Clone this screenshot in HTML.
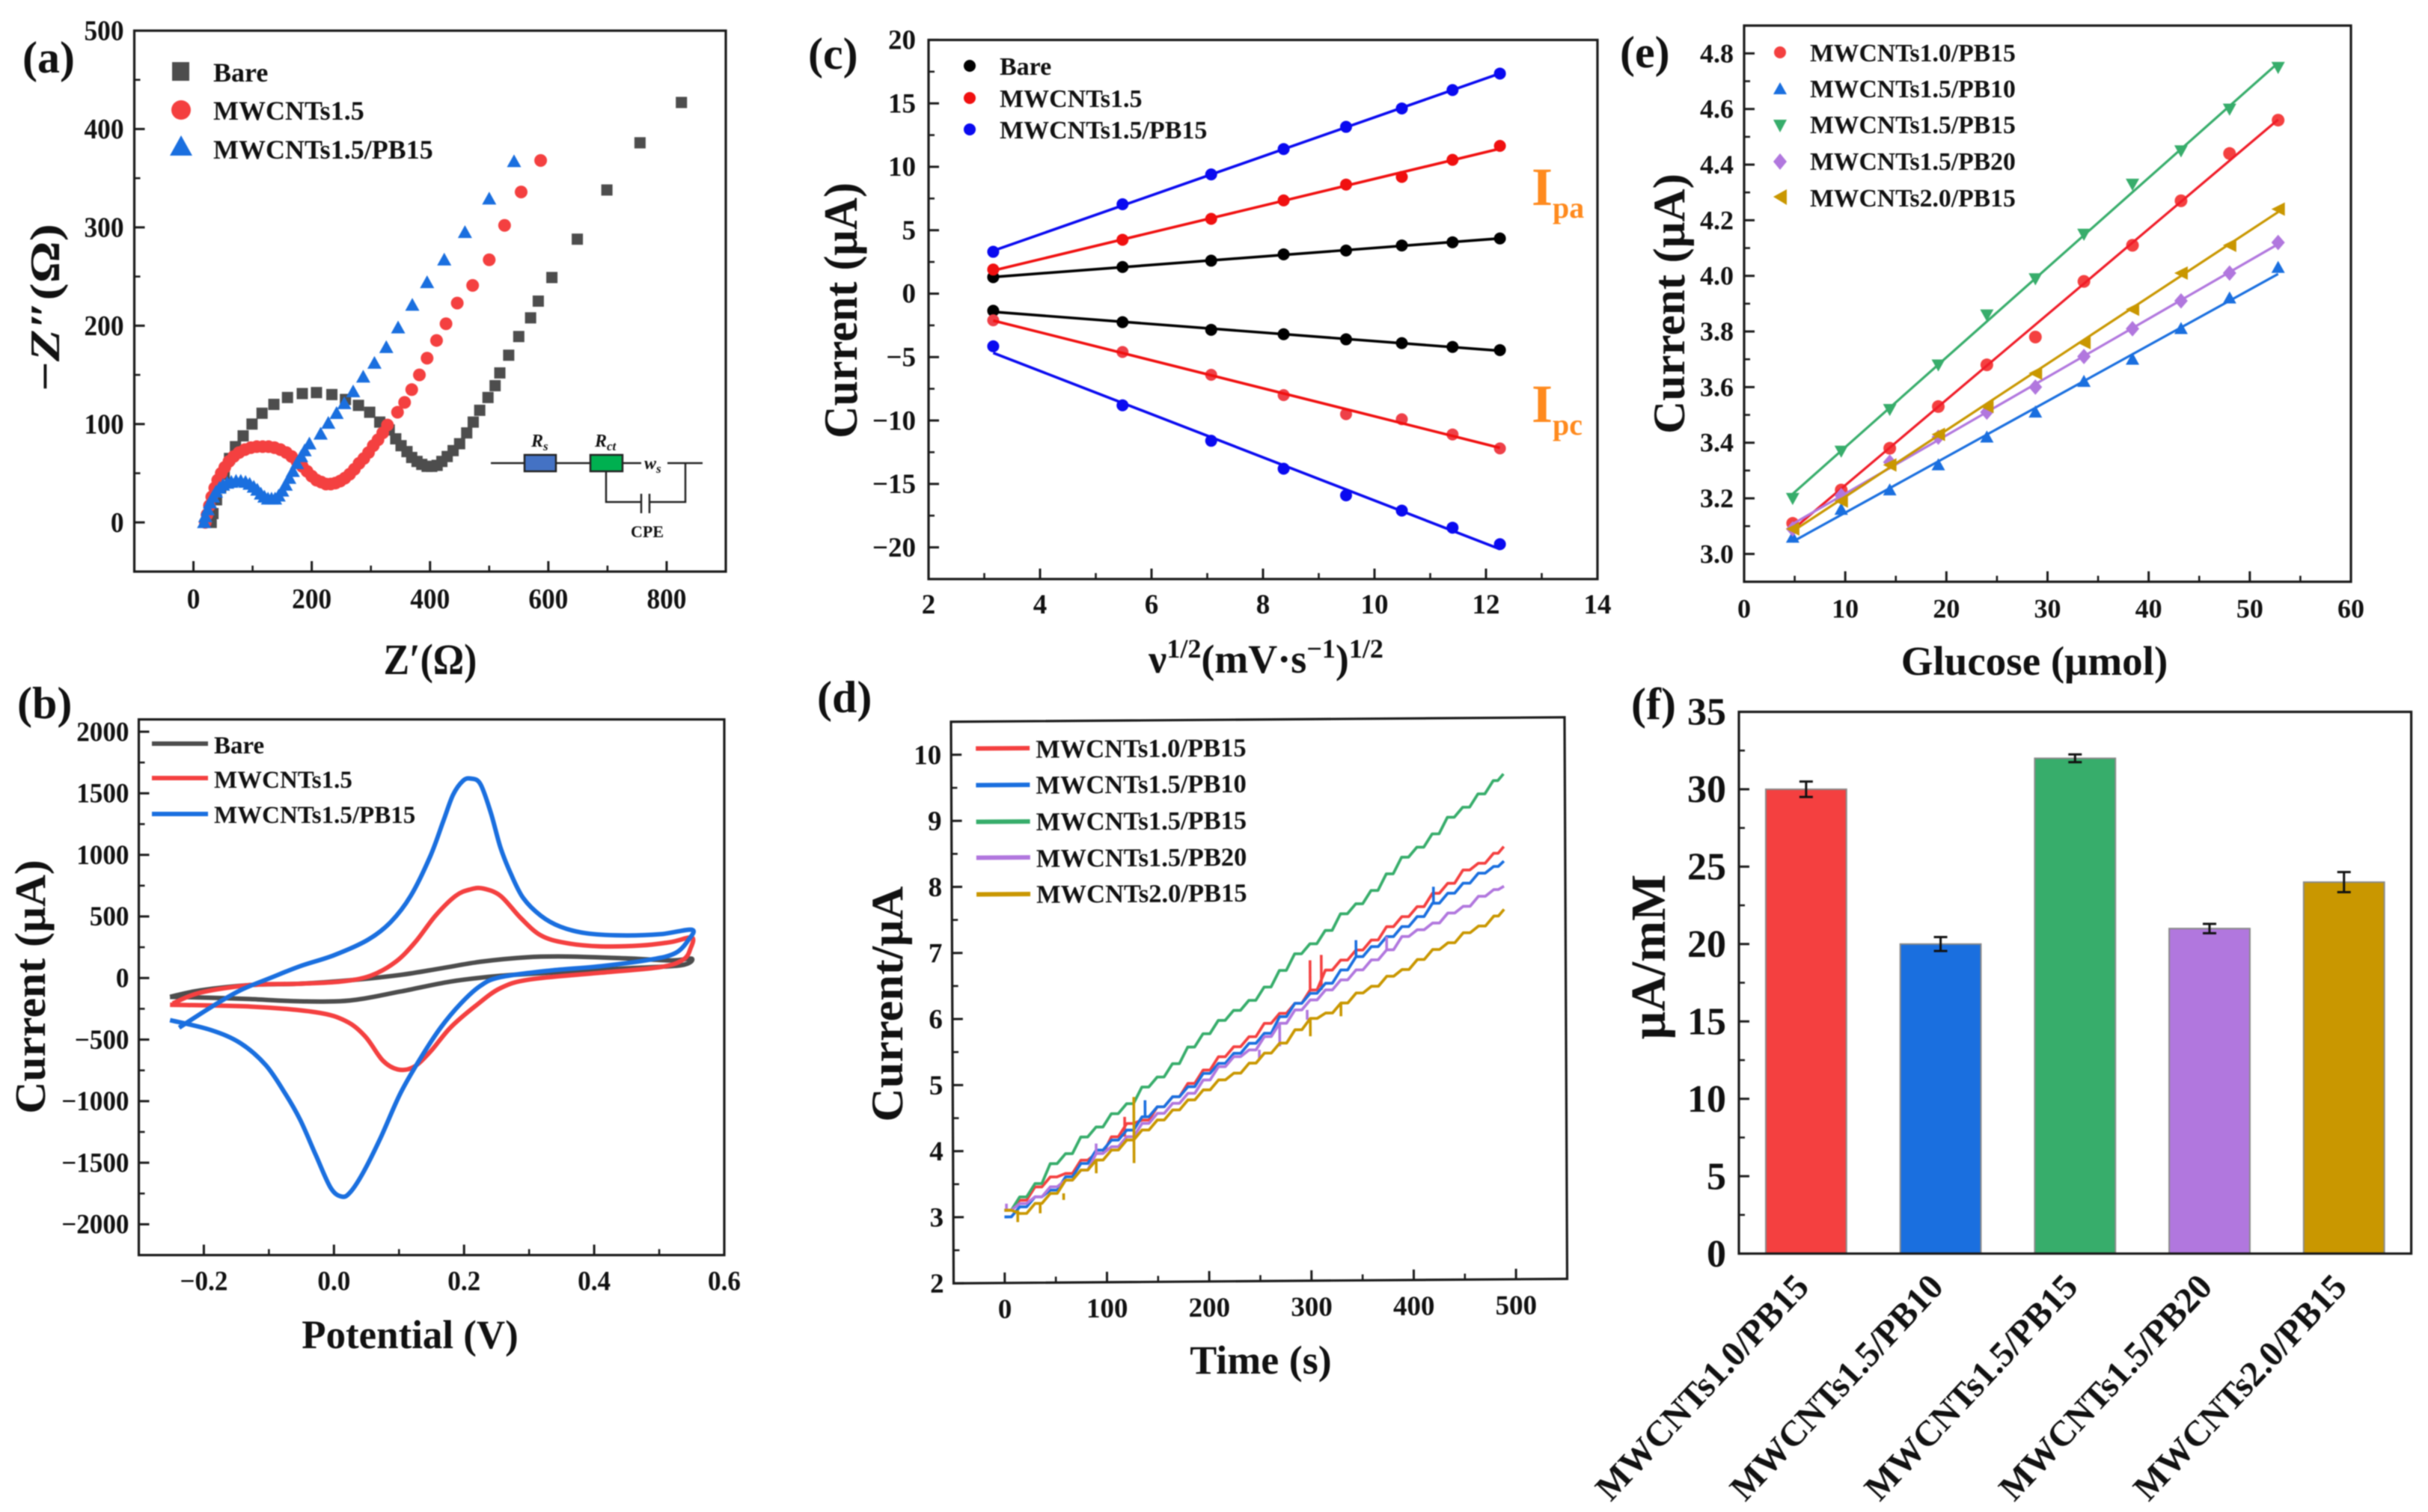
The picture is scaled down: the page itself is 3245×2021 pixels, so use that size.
<!DOCTYPE html>
<html lang="en">
<head>
<meta charset="utf-8">
<title>Electrochemical characterisation panels</title>
<style>
html,body{margin:0;padding:0;background:#fff;}
svg{display:block;filter:blur(.7px);}
text{font-family:"Liberation Serif","DejaVu Serif",serif;font-weight:bold;fill:#111;}
</style>
</head>
<body>
<svg id="fig" xmlns="http://www.w3.org/2000/svg" width="3245" height="2021" viewBox="0 0 3245 2021">
<rect width="3245" height="2021" fill="#fff"/>

<!-- panel a -->
<g id="pa">
  <text x="30" y="97" font-size="60">(a)</text>
  <g id="pa-axes"></g>
  <g id="a-bare" fill="#4d4d4d"></g>
  <g id="a-cnt" fill="#f44040"></g>
  <g id="a-pb" fill="#1a6fdf"></g>
  <text text-anchor="middle" font-size="58" transform="translate(575 901) scale(.89 1)">Z′(Ω)</text>
  <text text-anchor="middle" font-size="56" transform="translate(79 411) rotate(-90) scale(1.25 1)">−<tspan font-style="italic">Z</tspan>″(Ω)</text>
  <g>
    <rect x="230" y="83" width="23" height="25" fill="#4d4d4d"/>
    <circle cx="242" cy="147" r="13" fill="#f44040"/>
    <path d="M227 208 L242 181 L257 208 Z" fill="#1a6fdf"/>
    <text x="285" y="109" font-size="36">Bare</text>
    <text x="285" y="160" font-size="36">MWCNTs1.5</text>
    <text x="285" y="212" font-size="36">MWCNTs1.5/PB15</text>
  </g>
  <g stroke="#222" stroke-width="2.5" fill="none">
    <path d="M656 619H701M743 619H789M832 619H857M892 619H939M810 630V671H857M868 671H916V619M857 660V686M868 660V686"/>
    <rect x="701" y="608" width="42" height="22" fill="#4472c4"/>
    <rect x="789" y="608" width="43" height="22" fill="#00b050"/>
    <text x="710" y="597" font-size="24" font-style="italic" stroke="none">R<tspan dy="5" font-size="17">s</tspan></text>
    <text x="795" y="597" font-size="24" font-style="italic" stroke="none">R<tspan dy="5" font-size="17">ct</tspan></text>
    <text x="861" y="627" font-size="24" font-style="italic" stroke="none">w<tspan dy="5" font-size="17">s</tspan></text>
    <text x="865" y="718" font-size="22" text-anchor="middle" stroke="none">CPE</text>
  </g>
</g>

<!-- panel b -->
<g id="pb">
  <text x="23" y="960" font-size="60">(b)</text>
  <g id="pb-axes"></g>
  <g id="b-lines" fill="none" stroke-width="6" stroke-linejoin="round"></g>
  <text text-anchor="middle" font-size="54" transform="translate(548 1802) scale(.98 1)">Potential (V)</text>
  <text text-anchor="middle" font-size="58" transform="translate(60 1319) rotate(-90) scale(1.03 1)">Current (μA)</text>
  <g stroke-width="6">
    <line x1="203" x2="278" y1="994" y2="994" stroke="#4d4d4d"/>
    <line x1="203" x2="278" y1="1040" y2="1040" stroke="#f44040"/>
    <line x1="203" x2="278" y1="1088" y2="1088" stroke="#1a6fdf"/>
    <text x="286" y="1007" font-size="33" stroke="none">Bare</text>
    <text x="286" y="1053" font-size="33" stroke="none">MWCNTs1.5</text>
    <text x="286" y="1100" font-size="33" stroke="none">MWCNTs1.5/PB15</text>
  </g>
</g>

<!-- panel c -->
<g id="pc">
  <text x="1080" y="92" font-size="60">(c)</text>
  <g id="pc-axes"></g>
  <g id="c-bare-up"></g>
  <g id="c-bare-down"></g>
  <g id="c-cnt-up"></g>
  <g id="c-cnt-down"></g>
  <g id="c-pb-up"></g>
  <g id="c-pb-down"></g>
  <text text-anchor="middle" font-size="54" transform="translate(1692 899)">ν<tspan dy="-20" font-size="36">1/2</tspan><tspan dy="20">(mV·s</tspan><tspan dy="-20" font-size="36">−1</tspan><tspan dy="20">)</tspan><tspan dy="-20" font-size="36">1/2</tspan></text>
  <text text-anchor="middle" font-size="64" transform="translate(1145 415) rotate(-90) scale(.94 1)">Current (μA)</text>
  <g>
    <circle cx="1296" cy="88" r="8" fill="#000"/>
    <circle cx="1296" cy="131" r="8" fill="#f01010"/>
    <circle cx="1296" cy="173" r="8" fill="#0a0af0"/>
    <text x="1336" y="100" font-size="34">Bare</text>
    <text x="1336" y="143" font-size="34">MWCNTs1.5</text>
    <text x="1336" y="185" font-size="34">MWCNTs1.5/PB15</text>
  </g>
  <text x="2047" y="274" font-size="72" style="fill:#ff8a1e">I<tspan dy="17" font-size="40" style="fill:#ff8a1e">pa</tspan></text>
  <text x="2047" y="564" font-size="72" style="fill:#ff8a1e">I<tspan dy="17" font-size="40" style="fill:#ff8a1e">pc</tspan></text>
</g>

<!-- panel d -->
<g id="pd">
  <text x="1092" y="952" font-size="60">(d)</text>
  <g transform="matrix(1 -0.0073 0.0047 1 -1.5 20)">
    <g id="pd-axes"></g>
    <g id="d-lines" fill="none" stroke-width="3.8" stroke-linejoin="round"></g>
    <g stroke-width="6">
      <line x1="1301" x2="1373" y1="990" y2="990" stroke="#f44040"/>
      <line x1="1301" x2="1373" y1="1039" y2="1039" stroke="#1a6fdf"/>
      <line x1="1301" x2="1373" y1="1088" y2="1088" stroke="#37ad6b"/>
      <line x1="1301" x2="1373" y1="1136" y2="1136" stroke="#b177de"/>
      <line x1="1301" x2="1373" y1="1185" y2="1185" stroke="#c99700"/>
      <text x="1381" y="1003" font-size="34.5" stroke="none">MWCNTs1.0/PB15</text>
      <text x="1381" y="1051" font-size="34.5" stroke="none">MWCNTs1.5/PB10</text>
      <text x="1381" y="1100" font-size="34.5" stroke="none">MWCNTs1.5/PB15</text>
      <text x="1381" y="1149" font-size="34.5" stroke="none">MWCNTs1.5/PB20</text>
      <text x="1381" y="1197" font-size="34.5" stroke="none">MWCNTs2.0/PB15</text>
    </g>
  </g>
  <text text-anchor="middle" font-size="54" transform="translate(1685 1836)">Time (s)</text>
  <text text-anchor="middle" font-size="60" transform="translate(1206 1342) rotate(-90) scale(1.04 1)">Current/μA</text>
</g>

<!-- panel e -->
<g id="pe">
  <text x="2165" y="90" font-size="60">(e)</text>
  <g id="pe-axes"></g>
  <g id="e-r"></g>
  <g id="e-b"></g>
  <g id="e-g"></g>
  <g id="e-p"></g>
  <g id="e-y"></g>
  <text text-anchor="middle" font-size="55" transform="translate(2719 902)">Glucose (μmol)</text>
  <text text-anchor="middle" font-size="60" transform="translate(2251 406) rotate(-90) scale(1.02 1)">Current (μA)</text>
  <g>
    <circle cx="2379" cy="70" r="8" fill="#f44040"/>
    <path d="M2370 126 L2379 110 L2388 126 Z" fill="#1a6fdf"/>
    <path d="M2370 160 L2379 177 L2388 160 Z" fill="#37ad6b"/>
    <path d="M2379 205 L2388 216 L2379 227 L2370 216 Z" fill="#b177de"/>
    <path d="M2388 253 L2370 263 L2388 274 Z" fill="#c99700"/>
    <text x="2419" y="82" font-size="33.7">MWCNTs1.0/PB15</text>
    <text x="2419" y="130" font-size="33.7">MWCNTs1.5/PB10</text>
    <text x="2419" y="178" font-size="33.7">MWCNTs1.5/PB15</text>
    <text x="2419" y="227" font-size="33.7">MWCNTs1.5/PB20</text>
    <text x="2419" y="276" font-size="33.7">MWCNTs2.0/PB15</text>
  </g>
</g>

<!-- panel f -->
<g id="pf">
  <text x="2180" y="961" font-size="60">(f)</text>
  <g id="f-bars"></g>
  <g id="pf-axes"></g>
  <text text-anchor="middle" font-size="66" transform="translate(2225 1279) rotate(-90)">μA/mM</text>
</g>
</svg>

<script>
/* ---------- panel a data ---------- */
const aBareRe=[30,33,39,46,52,61,71,84,99,116,136,159,184,208,234,257,279,298,315,331,342,351,361,369,378,386,395,403,412,420,429,439,450,462,473,484,498,510,518,533,550,570,583,606,649,699,755,825];
const aBareIm=[0,9,23,36,49,65,77,88,100,111,120,127,131,132,130,125,119,112,102,94,85,78,72,66,62,59,57,57,58,62,67,73,80,91,102,114,127,139,152,170,189,208,225,249,288,338,386,427];
const aCntRe=[20,23,27,31,36,41,47,53,60,68,77,87,97,107,117,127,137,147,157,166,175,184,192,200,208,216,224,232,240,248,256,264,272,280,288,296,304,312,320,328,345,357,369,382,395,411,427,446,472,500,526,554,587];
const aCntIm=[0,8,17,26,35,43,50,56,62,67,71,74,76,77,77,77,76,74,71,67,62,57,52,47,43,41,39,39,40,42,45,49,54,60,65,71,78,84,91,99,112,122,135,150,167,185,202,223,241,267,302,336,368];
const aPbRe=[18,20,24,28,33,38,44,50,57,64,72,80,88,95,102,108,114,120,126,132,138,144,150,156,162,168,175,182,188,196,215,228,242,255,270,287,306,326,346,370,395,424,459,500,542];
const aPbIm=[0,6,13,20,26,31,35,38,40,41,42,42,41,39,36,33,29,26,24,24,24,27,32,38,45,52,60,67,73,80,90,101,111,121,133,148,162,178,198,221,244,267,295,329,367];
const aXTicks=[0,200,400,600,800];
const aXMinor=[100,300,500,700];
const aYTicks=[0,100,200,300,400,500];
const aYMinor=[50,150,250,350,450];

/* ---------- panel b data ---------- */
const bBareV=[-.252,-.205,-.128,-.052,.025,.102,.164,.225,.295,.356,.448,.518,.55,.533,.448,.333,.256,.179,.102,.025,-.052,-.128,-.19,-.252];
const bBareI=[-153,-100,-57,-46,-18,25,78,132,168,175,160,143,157,103,78,43,18,-29,-110,-182,-189,-171,-160,-153];
const bCntV=[-.248,-.205,-.128,-.052,.01,.056,.095,.125,.156,.187,.21,.229,.256,.287,.318,.356,.41,.472,.518,.55,.548,.537,.502,.41,.302,.256,.218,.179,.148,.122,.098,.075,.048,.018,-.028,-.128,-.252];
const bCntI=[-207,-118,-57,-46,-29,18,132,292,506,667,720,727,667,488,346,285,257,264,292,328,239,150,89,43,-11,-82,-225,-403,-599,-724,-742,-670,-474,-349,-278,-232,-217];
const bPbV=[-.238,-.19,-.144,-.098,-.052,0,.052,.087,.118,.148,.168,.183,.198,.21,.225,.241,.256,.272,.291,.318,.348,.387,.441,.502,.55,.545,.525,.487,.41,.333,.256,.225,.195,.164,.133,.102,.072,.045,.025,.012,-.005,-.028,-.052,-.075,-.105,-.144,-.19,-.252];
const bPbI=[-403,-240,-100,0,96,185,310,453,667,988,1273,1487,1600,1620,1576,1344,1059,845,649,506,417,364,346,356,392,310,203,150,96,61,7,-64,-207,-403,-652,-938,-1294,-1579,-1740,-1775,-1704,-1437,-1151,-938,-706,-528,-421,-342];
const bXTicks=[-.2,0,.2,.4,.6];
const bXMinor=[-.1,.1,.3,.5];
const bYTicks=[-2000,-1500,-1000,-500,0,500,1000,1500,2000];
const bYMinor=[-1750,-1250,-750,-250,250,750,1250,1750];

/* ---------- panel c data ---------- */
const cRoot=[3.16,5.48,7.07,8.37,9.49,10.49,11.4,12.25];
const cBareUp=[1.3,2.1,2.6,3.1,3.4,3.8,4.05,4.35];
const cBareDown=[-1.35,-2.25,-2.85,-3.2,-3.6,-3.9,-4.2,-4.45];
const cCntUp=[1.9,4.25,5.9,7.35,8.6,9.2,10.55,11.65];
const cCntDown=[-2.1,-4.6,-6.4,-8,-9.5,-9.9,-11.1,-12.2];
const cPbUp=[3.3,7.05,9.4,11.4,13.15,14.6,16.05,17.35];
const cPbDown=[-4.15,-8.8,-11.6,-13.8,-15.9,-17.1,-18.45,-19.75];
const cXTicks=[2,4,6,8,10,12,14];
const cXMinor=[3,5,7,9,11,13];
const cYTicks=[-20,-15,-10,-5,0,5,10,15,20];
const cYMinor=[-17.5,-12.5,-7.5,-2.5,2.5,7.5,12.5,17.5];

/* ---------- panel d data ---------- */
const dTime=[0,15,30,45,60,75,90,105,120,135,150,165,180,195,210,225,240,255,270,285,300,315,330,345,360,375,390,405,420,435,450,465,480,490];
const dRed=[3.1,3.25,3.45,3.6,3.65,3.85,3.95,4.2,4.4,4.45,4.65,4.8,5,5.2,5.4,5.55,5.7,5.9,6.05,6.2,6.4,6.7,6.85,7,7.15,7.35,7.5,7.65,7.85,8,8.2,8.3,8.45,8.55];
const dBlue=[3,3.15,3.3,3.4,3.6,3.8,4,4.15,4.3,4.5,4.65,4.8,4.95,5.15,5.3,5.45,5.6,5.75,6,6.2,6.35,6.5,6.7,6.9,7.05,7.2,7.35,7.5,7.7,7.85,8,8.15,8.25,8.33];
const dGreen=[3.1,3.3,3.5,3.8,3.95,4.2,4.35,4.55,4.7,4.95,5.1,5.3,5.55,5.75,5.95,6.1,6.25,6.45,6.7,6.95,7.1,7.3,7.55,7.7,7.9,8.15,8.4,8.55,8.75,9,9.15,9.35,9.55,9.65];
const dPurple=[3.1,3.2,3.3,3.45,3.55,3.7,3.95,4.05,4.2,4.4,4.55,4.7,4.85,5.05,5.25,5.4,5.5,5.7,5.9,6.1,6.25,6.4,6.55,6.7,6.85,7,7.2,7.3,7.4,7.55,7.65,7.8,7.9,7.95];
const dGold=[3.1,3.05,3.2,3.35,3.55,3.7,3.85,4,4.15,4.3,4.45,4.6,4.75,4.9,5.05,5.15,5.3,5.45,5.6,5.8,5.97,6.05,6.2,6.35,6.45,6.6,6.7,6.85,7,7.1,7.25,7.35,7.5,7.6];
const dRedSpikeT=[300,311,118];
const dRedSpikeV=[6.85,6.93,4.5];
const dBlueSpikeT=[3,421,138,345];
const dBlueSpikeV=[2.98,7.95,4.75,7.15];
const dPurpleSpikeT=[2,90,250,270,297,375];
const dPurpleSpikeV=[3.2,4.1,5.37,5.55,5.95,7.2];
const dGoldSpikeT=[13,35,58,90,127,127,300,330];
const dGoldSpikeV=[2.92,3.05,3.25,3.65,4.8,3.8,5.7,6.0];
const dXTicks=[0,100,200,300,400,500];
const dXMinor=[50,150,250,350,450];
const dYTicks=[2,3,4,5,6,7,8,9,10];
const dYMinor=[2.5,3.5,4.5,5.5,6.5,7.5,8.5,9.5];

/* ---------- panel e data ---------- */
const eGlucose=[4.8,9.6,14.4,19.2,24,28.8,33.6,38.4,43.2,48,52.8];
const eRed=[3.11,3.23,3.38,3.53,3.68,3.78,3.98,4.11,4.27,4.44,4.56];
const eBlue=[3.06,3.16,3.23,3.32,3.42,3.51,3.62,3.7,3.81,3.92,4.03];
const eGreen=[3.2,3.37,3.52,3.68,3.86,3.99,4.15,4.33,4.45,4.6,4.75];
const ePurple=[3.09,3.21,3.33,3.42,3.51,3.6,3.71,3.81,3.91,4.01,4.12];
const eGold=[3.09,3.19,3.32,3.43,3.53,3.65,3.76,3.88,4.01,4.11,4.24];
const eXTicks=[0,10,20,30,40,50,60];
const eXMinor=[5,15,25,35,45,55];
const eYTicks=[3,3.2,3.4,3.6,3.8,4,4.2,4.4,4.6,4.8];
const eYMinor=[2.9,3.1,3.3,3.5,3.7,3.9,4.1,4.3,4.5,4.7,4.9];

/* ---------- panel f data ---------- */
const fCategories=['MWCNTs1.0/PB15','MWCNTs1.5/PB10','MWCNTs1.5/PB15','MWCNTs1.5/PB20','MWCNTs2.0/PB15'];
const fValues=[30,20,32,21,24];
const fErrors=[.5,.45,.25,.3,.65];
const fYTicks=[0,5,10,15,20,25,30,35];
const fYMinor=[2.5,7.5,12.5,17.5,22.5,27.5,32.5];

/* ---------- helpers ---------- */
const NS='http://www.w3.org/2000/svg';
const byId=id=>document.getElementById(id);
function mk(tag,parent,attrs){
  const e=document.createElementNS(NS,tag);
  for(const k in attrs)e.setAttribute(k,attrs[k]);
  parent.appendChild(e);
  return e;
}
function linear(d0,d1,r0,r1){return v=>r0+(v-d0)*(r1-r0)/(d1-d0);}
function fmt(v,dec){
  const s=Math.abs(v).toFixed(dec);
  return (v<0?'−':'')+s;
}
function drawAxes(g,box,X,Y,c){
  const frame=mk('rect',g,{x:box.l,y:box.t,width:box.r-box.l,height:box.b-box.t,fill:'none',stroke:'#1a1a1a','stroke-width':3.2});
  
  
  (c.xMajor||[]).forEach(v=>{
    const t=mk('line',g,{x1:X(v),x2:X(v),y1:box.b,y2:box.b-14,stroke:'#1a1a1a','stroke-width':3});
    
    
    const l=mk('text',g,{'text-anchor':'middle','font-size':c.size,transform:`translate(${X(v)} ${box.b+c.xGap}) scale(${c.sx} 1)`});
    l.textContent=fmt(v,c.xDec);
    
    
  });
  (c.xMinor||[]).forEach(v=>{
    const t=mk('line',g,{x1:X(v),x2:X(v),y1:box.b,y2:box.b-8,stroke:'#1a1a1a','stroke-width':2.6});
    
    
  });
  c.yMajor.forEach(v=>{
    const t=mk('line',g,{x1:box.l,x2:box.l+14,y1:Y(v),y2:Y(v),stroke:'#1a1a1a','stroke-width':3});
    
    
    const l=mk('text',g,{'text-anchor':'end','font-size':c.size,transform:`translate(${box.l-c.yGap} ${Y(v)+c.size*.33}) scale(${c.sx} 1)`});
    l.textContent=fmt(v,c.yDec);
    
    
  });
  c.yMinor.forEach(v=>{
    const t=mk('line',g,{x1:box.l,x2:box.l+8,y1:Y(v),y2:Y(v),stroke:'#1a1a1a','stroke-width':2.6});
    
    
  });
}
function smooth(pts){
  let d=`M${pts[0][0]} ${pts[0][1]}`;
  for(let i=0;i<pts.length-1;i++){
    const p0=pts[i-1]||pts[i],p1=pts[i],p2=pts[i+1],p3=pts[i+2]||p2;
    const c1=[p1[0]+(p2[0]-p0[0])/6,p1[1]+(p2[1]-p0[1])/6];
    const c2=[p2[0]-(p3[0]-p1[0])/6,p2[1]-(p3[1]-p1[1])/6];
    d+=`C${c1[0]} ${c1[1]} ${c2[0]} ${c2[1]} ${p2[0]} ${p2[1]}`;
  }
  return d;
}
function marker(g,shape,x,y,s,fill){
  let e;
  if(shape==='circle')e=mk('circle',g,{cx:x,cy:y,r:s,fill:fill});
  else if(shape==='square')e=mk('rect',g,{x:x-s,y:y-s,width:2*s,height:2*s,fill:fill});
  else{
    let d='';
    if(shape==='up')d=`M${x-s} ${y+s*.8}L${x} ${y-s}L${x+s} ${y+s*.8}Z`;
    if(shape==='down')d=`M${x-s} ${y-s*.8}L${x} ${y+s}L${x+s} ${y-s*.8}Z`;
    if(shape==='diamond')d=`M${x} ${y-s*1.15}L${x+s} ${y}L${x} ${y+s*1.15}L${x-s} ${y}Z`;
    if(shape==='left')d=`M${x+s} ${y-s}L${x-s} ${y}L${x+s} ${y+s}Z`;
    e=mk('path',g,{d:d,fill:fill});
  }
  
  
}
function fit(xs,ys){
  const n=xs.length,mx=xs.reduce((a,b)=>a+b)/n,my=ys.reduce((a,b)=>a+b)/n;
  let num=0,den=0;
  xs.forEach((x,i)=>{num+=(x-mx)*(ys[i]-my);den+=(x-mx)*(x-mx);});
  const m=num/den;
  return x=>my+m*(x-mx);
}
function scatterFit(g,X,Y,xs,ys,shape,size,ptColor,lineColor,lw){
  const f=fit(xs,ys);
  xs.forEach((x,i)=>marker(g,shape,X(x),Y(ys[i]),size,ptColor));
  const l=mk('line',g,{x1:X(xs[0]),y1:Y(f(xs[0])),x2:X(xs[xs.length-1]),y2:Y(f(xs[xs.length-1])),stroke:lineColor,'stroke-width':lw});
  
  
}

/* ---------- panel a ---------- */
const boxA={l:179.5,r:970,t:41,b:764};
const xA=linear(-100,900,boxA.l,boxA.r),yA=linear(-50,500,boxA.b,boxA.t);
drawAxes(byId('pa-axes'),boxA,xA,yA,{xMajor:aXTicks,xMinor:aXMinor,yMajor:aYTicks,yMinor:aYMinor,size:38,sx:.93,xGap:49,yGap:14,xDec:0,yDec:0});
aBareRe.forEach((x,i)=>marker(byId('a-bare'),'square',xA(x),yA(aBareIm[i]),7.5,'#4d4d4d'));
aCntRe.forEach((x,i)=>marker(byId('a-cnt'),'circle',xA(x),yA(aCntIm[i]),8.5,'#f44040'));
aPbRe.forEach((x,i)=>marker(byId('a-pb'),'up',xA(x),yA(aPbIm[i]),9.5,'#1a6fdf'));

/* ---------- panel b ---------- */
const boxB={l:185.5,r:968,t:961.6,b:1677.6};
const xB=linear(-.3,.6,boxB.l,boxB.r),yB=linear(-2250,2100,boxB.b,boxB.t);
drawAxes(byId('pb-axes'),boxB,xB,yB,{xMajor:bXTicks,xMinor:bXMinor,yMajor:bYTicks,yMinor:bYMinor,size:37,sx:.95,xGap:47,yGap:13,xDec:1,yDec:0});
function cv(xs,ys,color){
  const pts=xs.map((x,i)=>[xB(x),yB(ys[i])]);
  const p=mk('path',byId('b-lines'),{d:smooth(pts),stroke:color});
  
  
}
cv(bBareV,bBareI,'#4d4d4d');
cv(bCntV,bCntI,'#f44040');
cv(bPbV,bPbI,'#1a6fdf');

/* ---------- panel c ---------- */
const boxC={l:1241,r:2135,t:53.4,b:774};
const xC=linear(2,14,boxC.l,boxC.r),yC=linear(-22.5,20,boxC.b,boxC.t);
drawAxes(byId('pc-axes'),boxC,xC,yC,{xMajor:cXTicks,xMinor:cXMinor,yMajor:cYTicks,yMinor:cYMinor,size:37,sx:1,xGap:46,yGap:17,xDec:0,yDec:0});
scatterFit(byId('c-bare-up'),xC,yC,cRoot,cBareUp,'circle',8,'#000','#000',3.6);
scatterFit(byId('c-bare-down'),xC,yC,cRoot,cBareDown,'circle',8,'#000','#000',3.6);
scatterFit(byId('c-cnt-up'),xC,yC,cRoot,cCntUp,'circle',8,'#f01010','#f01010',3.6);
scatterFit(byId('c-cnt-down'),xC,yC,cRoot,cCntDown,'circle',8,'#ee4048','#f01010',3.6);
scatterFit(byId('c-pb-up'),xC,yC,cRoot,cPbUp,'circle',8,'#0a0af0','#0a0af0',3.6);
scatterFit(byId('c-pb-down'),xC,yC,cRoot,cPbDown,'circle',8,'#0a0af0','#0a0af0',3.6);

/* ---------- panel d ---------- */
const boxD={l:1268,r:2088,t:954,b:1704.6};
const xD=linear(-50,550,boxD.l,boxD.r),yD=linear(2,10.5,boxD.b,boxD.t);
drawAxes(byId('pd-axes'),boxD,xD,yD,{xMajor:dXTicks,xMinor:dXMinor,yMajor:dYTicks,yMinor:dYMinor,size:37,sx:1,xGap:47,yGap:13,xDec:0,yDec:0});
function stepTrace(values,color,spikeT,spikeV){
  const g=byId('d-lines');
  let d=`M${xD(dTime[0])} ${yD(values[0])}`;
  for(let i=1;i<dTime.length;i++){
    const hold=dTime[i-1]+(dTime[i]-dTime[i-1])*.45;
    d+=`L${xD(hold)} ${yD(values[i-1])}L${xD(dTime[i])} ${yD(values[i])}`;
  }
  const p=mk('path',g,{d:d,stroke:color});
  
  
  spikeT.forEach((t,k)=>{
    let j=0;
    while(j<dTime.length-1&&dTime[j+1]<=t)j++;
    const s=mk('line',g,{x1:xD(t),x2:xD(t),y1:yD(values[j]),y2:yD(spikeV[k]),stroke:color,'stroke-width':3.6});
    
    
  });
}
stepTrace(dRed,'#f44040',dRedSpikeT,dRedSpikeV);
stepTrace(dBlue,'#1a6fdf',dBlueSpikeT,dBlueSpikeV);
stepTrace(dGreen,'#37ad6b',[],[]);
stepTrace(dPurple,'#b177de',dPurpleSpikeT,dPurpleSpikeV);
stepTrace(dGold,'#c99700',dGoldSpikeT,dGoldSpikeV);

/* ---------- panel e ---------- */
const boxE={l:2331,r:3142,t:34.2,b:777.6};
const xE=linear(0,60,boxE.l,boxE.r),yE=linear(2.9,4.9,boxE.b,boxE.t);
drawAxes(byId('pe-axes'),boxE,xE,yE,{xMajor:eXTicks,xMinor:eXMinor,yMajor:eYTicks,yMinor:eYMinor,size:36,sx:1,xGap:48,yGap:14,xDec:0,yDec:1});
scatterFit(byId('e-r'),xE,yE,eGlucose,eRed,'circle',8.5,'#f44040','#f01c28',3.2);
scatterFit(byId('e-b'),xE,yE,eGlucose,eBlue,'up',9,'#1a6fdf','#1a6fdf',3.2);
scatterFit(byId('e-g'),xE,yE,eGlucose,eGreen,'down',9,'#37ad6b','#37ad6b',3.2);
scatterFit(byId('e-p'),xE,yE,eGlucose,ePurple,'diamond',9,'#b177de','#b177de',3.2);
scatterFit(byId('e-y'),xE,yE,eGlucose,eGold,'left',9,'#c99700','#c99700',3.2);

/* ---------- panel f ---------- */
const boxF={l:2324,r:3222.6,t:951.5,b:1675.6};
const xF=linear(.5,5.5,boxF.l,boxF.r),yF=linear(0,35,boxF.b,boxF.t);
const fColors=['#f44040','#1a6fdf','#37ad6b','#b177de','#c99700'];
const unitF=(boxF.r-boxF.l)/5;
fValues.forEach((v,i)=>{
  const cx=xF(i+1),w=.6*unitF;
  const r=mk('rect',byId('f-bars'),{x:cx-w/2,y:yF(v),width:w,height:yF(0)-yF(v),fill:fColors[i],stroke:'#8a8a8a','stroke-width':2});
  
  
  const hi=yF(v+fErrors[i]),lo=yF(v-fErrors[i]);
  const eb=mk('path',byId('f-bars'),{d:`M${cx} ${hi}V${lo}M${cx-9} ${hi}H${cx+9}M${cx-9} ${lo}H${cx+9}`,fill:'none',stroke:'#111','stroke-width':3});
  
  
  const t=mk('text',byId('pf-axes'),{'text-anchor':'end','font-size':48,transform:`translate(${cx+6} 1722) rotate(-47)`});
  t.textContent=fCategories[i];
  
  
});
drawAxes(byId('pf-axes'),boxF,xF,yF,{yMajor:fYTicks,yMinor:fYMinor,size:52,sx:1,xGap:0,yGap:17,xDec:0,yDec:0});
</script>
</body>
</html>
